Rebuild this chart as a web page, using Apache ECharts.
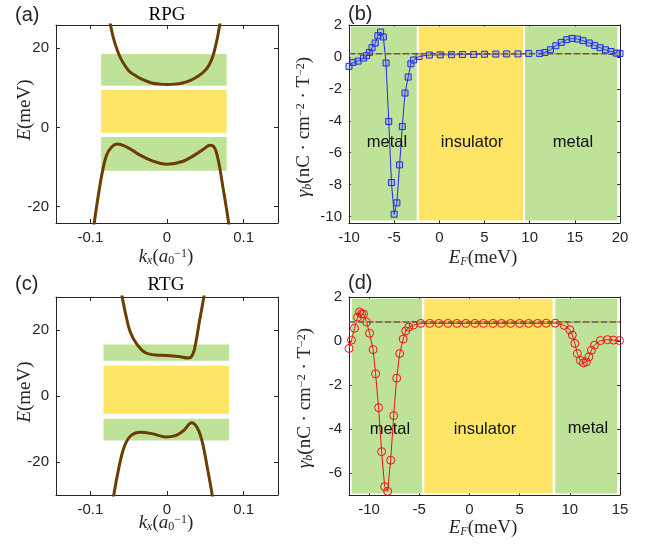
<!DOCTYPE html>
<html>
<head>
<meta charset="utf-8">
<script src="https://cdn.jsdelivr.net/npm/echarts@6/dist/echarts.min.js"></script>
<style>
  html, body { margin: 0; padding: 0; background: #fff; }
  #chart { width: 650px; height: 546px; }
</style>
</head>
<body>
<div id="chart"></div>
<script>
// (a) RPG bands
const rpgUpK = [-0.078, -0.074, -0.07, -0.065, -0.06, -0.05, -0.04, -0.03, -0.02, -0.01, 0, 0.01, 0.02, 0.03, 0.04, 0.05, 0.055, 0.06, 0.065, 0.069, 0.072]
const rpgUpE = [30, 26, 22.5, 19.5, 17.2, 14.3, 12.9, 11.9, 11.2, 10.9, 10.8, 10.9, 11.2, 11.8, 12.8, 14.4, 15.7, 18.0, 21.8, 26, 30]
const rpgLoK = [-0.097, -0.095, -0.09, -0.085, -0.079, -0.072, -0.065, -0.055, -0.045, -0.035, -0.02, 0, 0.02, 0.036, 0.049, 0.056, 0.062, 0.067, 0.073, 0.08, 0.082]
const rpgLoE = [-28, -24.1, -17.5, -11.8, -7.0, -4.9, -4.2, -4.7, -5.8, -7.0, -8.4, -9.3, -8.6, -7.0, -5.3, -4.5, -5.1, -8.3, -15, -23.4, -27]
// (c) RTG bands
const rtgUpK = [-0.062, -0.0585, -0.054, -0.048, -0.039, -0.028, -0.015, 0, 0.015, 0.028, 0.034, 0.038, 0.0425, 0.048, 0.051]
const rtgUpE = [35, 30, 24.8, 19.4, 15.6, 13.1, 12.4, 12.3, 12.0, 11.5, 12.8, 16.6, 22.8, 29.8, 34]
const rtgLoK = [-0.072, -0.0695, -0.063, -0.0565, -0.048, -0.035, -0.02, -0.002, 0.011, 0.022, 0.032, 0.0395, 0.046, 0.0525, 0.059, 0.061]
const rtgLoE = [-35, -30, -21.9, -15.8, -12.2, -11.0, -11.4, -12.4, -12.0, -10.4, -8.1, -9.6, -13.8, -21.5, -30, -34]

// shaded boxes: [E bottom, E top] for green / yellow / green
const rpgBoxK = [-0.086, 0.078]
const rpgBoxE = [[10.5, 18.5], [-1.35, 9.4], [-10.95, -2.45]]
const rtgBoxK = [-0.083, 0.081]
const rtgBoxE = [[10.7, 15.6], [-5.4, 9.2], [-13.5, -6.9]]

// (b) gamma_b vs E_F for RPG
const rpgEF = [-10, -9.55, -9.0, -8.4, -8.05, -7.75, -7.45, -7.1, -6.8, -6.5, -6.2, -5.9, -5.6, -5.3, -5.0, -4.7, -4.4, -4.1, -3.8, -3.45, -3.15, -2.85, -2.25, -1.1, 0.1, 1.35, 2.55, 3.8, 5.0, 6.25, 7.45, 8.7, 9.9, 11.1, 11.7, 12.3, 12.9, 13.5, 14.1, 14.7, 15.3, 15.9, 16.6, 17.2, 17.8, 18.4, 19.0, 19.6, 20]
const rpgGam = [-0.59, -0.34, -0.26, -0.07, 0.08, 0.28, 0.58, 0.87, 1.33, 1.56, 1.25, -0.38, -4.04, -7.87, -9.85, -9.14, -6.76, -4.36, -2.26, -1.26, -0.43, -0.19, 0.03, 0.12, 0.13, 0.14, 0.15, 0.16, 0.17, 0.18, 0.19, 0.19, 0.22, 0.22, 0.28, 0.45, 0.70, 0.91, 1.08, 1.16, 1.12, 1.02, 0.87, 0.72, 0.58, 0.45, 0.34, 0.24, 0.22]
const rpgRef = 0.2
const rpgZoneX = [[-9.8, -2.5], [-2.28, 9.28], [9.49, 19.7]]
const rpgZoneY = [-10.25, 1.9]

// (d) gamma_b vs E_F for RTG
const rtgEF = [-12, -11.75, -11.45, -11.15, -10.95, -10.75, -10.55, -10.25, -9.95, -9.6, -9.35, -9.05, -8.75, -8.45, -8.15, -7.85, -7.55, -7.25, -6.95, -6.6, -6.35, -6.05, -5.6, -4.85, -3.95, -3.05, -2.15, -1.25, -0.35, 0.55, 1.4, 2.35, 3.2, 4.1, 5.0, 5.9, 6.8, 7.65, 8.55, 9.45, 10.0, 10.25, 10.5, 10.75, 11.05, 11.35, 11.65, 11.9, 12.15, 12.45, 13.05, 13.75, 14.35, 14.95]
const rtgGam = [-0.34, 0.04, 0.58, 1.08, 1.32, 1.23, 1.23, 0.86, 0.35, -0.39, -1.49, -3.03, -5.03, -6.62, -6.83, -5.42, -3.39, -1.69, -0.57, 0.09, 0.46, 0.63, 0.72, 0.80, 0.80, 0.80, 0.80, 0.80, 0.80, 0.80, 0.80, 0.80, 0.80, 0.80, 0.80, 0.80, 0.80, 0.81, 0.81, 0.71, 0.51, 0.27, -0.11, -0.57, -0.88, -0.99, -0.95, -0.72, -0.42, -0.19, 0.02, 0.06, 0.04, 0.02]
const rtgRef = 0.86
const rtgZoneX = [[-11.73, -4.73], [-4.5, 8.29], [8.55, 14.72]]
const rtgZoneY = [-6.93, 1.92]

// tick values
const kTicks = [-0.1, 0, 0.1]
const rpgETicks = [-20, 0, 20]
const rtgETicks = [-20, 0, 20]
const rpgEFTicks = [-10, -5, 0, 5, 10, 15, 20]
const rpgGamTicks = [-10, -8, -6, -4, -2, 0, 2]
const rtgEFTicks = [-10, -5, 0, 5, 10, 15]
const rtgGamTicks = [-6, -4, -2, 0, 2]

const GREEN = '#bfe299'
const YELLOW = '#ffe566'
const BROWN = '#6b3e00'
const AXC = '#262626'
const SANS = 'Liberation Sans, Arial, sans-serif'
const SERIF = 'Liberation Serif, Times New Roman, serif'

const zip = (a, b) => a.map((v, i) => [v, b[i]])

const chart = echarts.init(document.getElementById('chart'), null, {renderer: 'canvas'})

const grids = [
  {left: 56, top: 25, width: 222, height: 198},
  {left: 349, top: 25, width: 271, height: 198},
  {left: 56, top: 297, width: 222, height: 198},
  {left: 349, top: 297, width: 271, height: 198}
]
const ranges = [
  {x: [-0.145, 0.145], y: [-24.1, 25.8], xt: kTicks, yt: rpgETicks},
  {x: [-10, 20], y: [-10.4, 2], xt: rpgEFTicks, yt: rpgGamTicks},
  {x: [-0.145, 0.145], y: [-30, 30], xt: kTicks, yt: rtgETicks},
  {x: [-12, 15], y: [-7, 2], xt: rtgEFTicks, yt: rtgGamTicks}
]

function axis(gi, r, ticks, pos, labels) {
  return {
    type: 'value', gridIndex: gi, min: r[0], max: r[1], position: pos,
    axisLine: {show: true, onZero: false, lineStyle: {color: AXC, width: 1}},
    axisTick: {show: true, inside: true, length: 4, customValues: ticks, lineStyle: {color: AXC}},
    axisLabel: {show: labels, customValues: ticks, color: AXC, fontSize: 15, fontFamily: SANS, margin: 7},
    splitLine: {show: false}
  }
}

const xAxes = [], yAxes = []
ranges.forEach((r, gi) => {
  xAxes.push(axis(gi, r.x, r.xt, 'bottom', true))
  xAxes.push(axis(gi, r.x, r.xt, 'top', false))
  yAxes.push(axis(gi, r.y, r.yt, 'left', true))
  yAxes.push(axis(gi, r.y, r.yt, 'right', false))
})

function boxes(k, es) {
  const cols = [GREEN, YELLOW, GREEN]
  return es.map((e, i) => [
    {xAxis: k[0], yAxis: e[0], itemStyle: {color: cols[i]}},
    {xAxis: k[1], yAxis: e[1]}
  ])
}
function zones(xs, y) {
  const cols = [GREEN, YELLOW, GREEN]
  return xs.map((x, i) => [
    {xAxis: x[0], yAxis: y[0], itemStyle: {color: cols[i]}},
    {xAxis: x[1], yAxis: y[1]}
  ])
}

function bgSeries(gi, areas) {
  return {
    type: 'line', xAxisIndex: gi * 2, yAxisIndex: gi * 2, data: [], z: 1,
    markArea: {silent: true, data: areas, itemStyle: {opacity: 1}}
  }
}
function band(gi, k, e) {
  return {
    type: 'line', xAxisIndex: gi * 2, yAxisIndex: gi * 2, data: zip(k, e), z: 5,
    smooth: 0.35, symbol: 'none', lineStyle: {color: BROWN, width: 3}, silent: true
  }
}
function refLine(gi, x, y) {
  const d = [[x[0], y], [x[1], y]]
  return [
    {type: 'line', xAxisIndex: gi * 2, yAxisIndex: gi * 2, data: d, z: 6, symbol: 'none',
      lineStyle: {color: '#5a5a5a', width: 1.5, type: [6, 3]}, silent: true},
    {type: 'line', xAxisIndex: gi * 2, yAxisIndex: gi * 2, data: d, z: 6, symbol: 'none',
      lineStyle: {color: '#f39220', width: 1.5, type: [3, 6], dashOffset: 3}, silent: true}
  ]
}

const series = [
  bgSeries(0, boxes(rpgBoxK, rpgBoxE)),
  band(0, rpgUpK, rpgUpE),
  band(0, rpgLoK, rpgLoE),
  bgSeries(1, zones(rpgZoneX, rpgZoneY)),
  {
    type: 'line', xAxisIndex: 2, yAxisIndex: 2, data: zip(rpgEF, rpgGam), z: 5,
    symbol: 'rect', symbolSize: 6,
    lineStyle: {color: '#1f2be8', width: 1},
    itemStyle: {color: 'rgba(90,110,255,0.25)', borderColor: '#1f2be8', borderWidth: 1}
  },
  ...refLine(1, [-10, 20], rpgRef),
  bgSeries(2, boxes(rtgBoxK, rtgBoxE)),
  band(2, rtgUpK, rtgUpE),
  band(2, rtgLoK, rtgLoE),
  bgSeries(3, zones(rtgZoneX, rtgZoneY)),
  {
    type: 'line', xAxisIndex: 6, yAxisIndex: 6, data: zip(rtgEF, rtgGam), z: 5,
    symbol: 'circle', symbolSize: 8,
    lineStyle: {color: '#f01010', width: 1},
    itemStyle: {color: 'rgba(255,255,255,0)', borderColor: '#f01010', borderWidth: 1}
  },
  ...refLine(3, [-12, 15], rtgRef)
]

const richSerif = {
  i: {fontFamily: SERIF, fontSize: 19, fontStyle: 'italic', fill: AXC},
  n: {fontFamily: SERIF, fontSize: 19, fill: AXC},
  s: {fontFamily: SERIF, fontSize: 12, fontStyle: 'italic', verticalAlign: 'bottom', fill: AXC},
  r: {fontFamily: SERIF, fontSize: 12, verticalAlign: 'bottom', fill: AXC},
  p: {fontFamily: SERIF, fontSize: 12, verticalAlign: 'top', fill: AXC}
}
function txt(x, y, text, opts) {
  return Object.assign({type: 'text', x: x, y: y, z: 20, silent: true,
    style: Object.assign({text: text, align: 'center', verticalAlign: 'middle', fill: AXC}, opts.style || {})},
    opts.rot ? {rotation: Math.PI / 2} : {})
}
const kName = '{i|k}{s|x}{n|(}{i|a}{r|0}{p|−1}{n|)}'
const eName = '{i|E}{n|(meV)}'
const efName = '{i|E}{s|F}{n|(meV)}'
const gName = '{i|γ}{s|b}{n|(nC · cm}{p|−2}{n| · T}{p|−2}{n|)}'
const sansBig = {font: '20px ' + SANS, align: 'left'}
const zoneFont = {font: '16.5px ' + SANS, fill: '#111'}

const graphic = [
  txt(15, 15, '(a)', {style: sansBig}),
  txt(348, 14, '(b)', {style: sansBig}),
  txt(15, 284, '(c)', {style: sansBig}),
  txt(348, 283, '(d)', {style: sansBig}),
  txt(167, 15, 'RPG', {style: {font: '19px ' + SERIF, fill: '#000'}}),
  txt(166, 285, 'RTG', {style: {font: '19px ' + SERIF, fill: '#000'}}),
  txt(25, 110, eName, {rot: true, style: {rich: richSerif}}),
  txt(25, 392, eName, {rot: true, style: {rich: richSerif}}),
  txt(166, 257, kName, {style: {rich: richSerif}}),
  txt(166, 523, kName, {style: {rich: richSerif}}),
  txt(304, 127, gName, {rot: true, style: {rich: richSerif}}),
  txt(305, 398, gName, {rot: true, style: {rich: richSerif}}),
  txt(483, 258, efName, {style: {rich: richSerif}}),
  txt(483, 528, efName, {style: {rich: richSerif}}),
  txt(387, 142, 'metal', {style: zoneFont}),
  txt(472, 142, 'insulator', {style: zoneFont}),
  txt(573, 142, 'metal', {style: zoneFont}),
  txt(390, 429, 'metal', {style: zoneFont}),
  txt(485, 429, 'insulator', {style: zoneFont}),
  txt(588, 428, 'metal', {style: zoneFont})
]

chart.setOption({
  backgroundColor: '#fff',
  animation: false,
  grid: grids,
  xAxis: xAxes,
  yAxis: yAxes,
  series: series,
  graphic: graphic
})
</script>
</body>
</html>
